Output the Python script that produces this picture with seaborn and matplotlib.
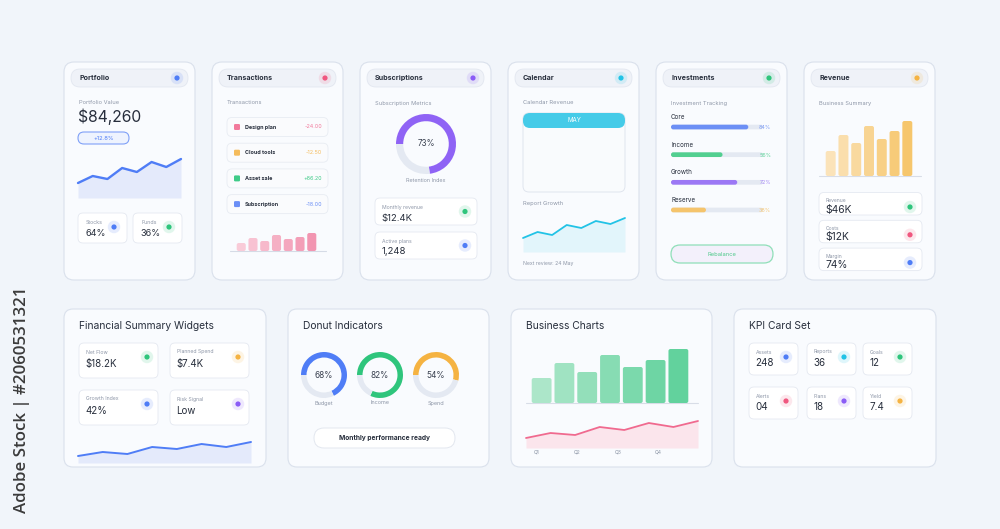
import numpy as np
import matplotlib
matplotlib.use("Agg")
import matplotlib.pyplot as plt
import seaborn as sns
from matplotlib.patches import FancyBboxPatch, Circle

# --- Daten ---
portfolio_trend = [15, 22, 19, 30, 26, 36, 31, 39]
stock_labels = ["Stocks", "Funds"]
stock_values = ["64%", "36%"]
transaction_names = ["Design plan", "Cloud tools", "Asset sale", "Subscription"]
transaction_amounts = ["-24.00", "-12.50", "+86.20", "-18.00"]
transaction_bars = [8, 13, 10, 16, 12, 14, 18]
retention_pct = 73
sub_labels = ["Monthly revenue", "Active plans"]
sub_values = ["$12.4K", "1,248"]
calendar_growth = [14, 20, 17, 27, 24, 31, 28, 34]
invest_names = ["Core", "Income", "Growth", "Reserve"]
invest_pct = [84, 56, 72, 38]
revenue_bars = [25, 41, 33, 50, 37, 45, 55]
revenue_labels = ["Revenue", "Costs", "Margin"]
revenue_values = ["$46K", "$12K", "74%"]
fin_labels = ["Net Flow", "Planned Spend", "Growth Index", "Risk Signal"]
fin_values = ["$18.2K", "$7.4K", "42%", "Low"]
fin_trend = [7, 11, 9, 16, 14, 19, 16, 21]
donut_names = ["Budget", "Income", "Spend"]
donut_pct = [68, 82, 54]
business_bars = [25, 40, 31, 48, 36, 43, 54]
business_trend = [10, 15, 13, 21, 18, 25, 21, 27]
quarters = ["Q1", "Q2", "Q3", "Q4"]
kpi_labels = ["Assets", "Reports", "Goals", "Alerts", "Plans", "Yield"]
kpi_values = ["248", "36", "12", "04", "18", "7.4"]

# --- Farben ---
BG = "#f1f5fa"
CARD = "#f9fbfe"
EDGE = "#dae1ec"
PILL = "#eff2f8"
TRACK = "#e4e9f2"
DARK = "#272e3c"
GRAY = "#8e97a8"
BLUE = "#4f7df6"
PINK = "#f0577f"
PURPLE = "#8b5cf6"
CYAN = "#22c3e6"
GREEN = "#2fc57c"
ORANGE = "#f5b342"

sns.set_style("white")
plt.rcParams["font.family"] = ["Inter", "DejaVu Sans"]

W, H = 1000, 529
fig = plt.figure(figsize=(10, 5.29), dpi=100, facecolor=BG)
bg = fig.add_axes([0, 0, 1, 1])
bg.set_xlim(0, W)
bg.set_ylim(H, 0)
bg.set_axis_off()


def inset(x0, y0, x1, y1):
    ax = fig.add_axes([x0 / W, 1 - y1 / H, (x1 - x0) / W, (y1 - y0) / H])
    ax.set_axis_off()
    return ax


def box(x0, y0, x1, y1, r=9, fc=CARD, ec=EDGE, lw=0.8, z=1):
    bg.add_patch(FancyBboxPatch((x0, y0), x1 - x0, y1 - y0,
                                boxstyle=f"round,pad=0,rounding_size={r}",
                                fc=fc, ec=ec, lw=lw, zorder=z))


def dot(x, y, color, r=2.6):
    bg.add_patch(Circle((x, y), r * 2.4, fc=color, alpha=0.14, ec="none", zorder=5))
    bg.add_patch(Circle((x, y), r, fc=color, ec="none", zorder=6))


def txt(x, y, s, size, color=DARK, weight="normal", ha="left", **kw):
    bg.text(x, y, s, fontsize=size, color=color, fontweight=weight, ha=ha,
            va="center", zorder=8, **kw)


def round_bars(ax, r_px):
    pos = ax.get_position()
    x0, x1 = ax.get_xlim()
    y0, y1 = ax.get_ylim()
    ux = abs(x1 - x0) / (pos.width * W)
    uy = abs(y1 - y0) / (pos.height * H)
    for p in list(ax.patches):
        x, y, w, h = p.get_x(), p.get_y(), p.get_width(), p.get_height()
        fc = p.get_facecolor()
        p.remove()
        rr = min(r_px * ux, abs(w) / 2, abs(h) / uy * ux / 2)
        ax.add_patch(FancyBboxPatch((x, y), w, h,
                                    boxstyle=f"round,pad=0,rounding_size={rr}",
                                    mutation_aspect=uy / ux, fc=fc, ec="none"))


def area_line(x0, x1, base, values, color, fill, lw=1.5, span=50):
    ax = inset(x0, base - span, x1, base)
    idx = np.arange(len(values))
    ax.fill_between(idx, values, 0, color=fill, lw=0)
    sns.lineplot(x=idx, y=values, ax=ax, color=color, lw=lw)
    for ln in ax.lines:
        ln.set_clip_on(False)
        ln.set_solid_joinstyle("round")
    ax.set_xlim(0, len(values) - 1)
    ax.set_ylim(0, span)
    ax.set_axis_off()
    return ax


def bar_chart(x_first, x_last, base, values, colors, frac, span=60, r=2):
    n = len(values)
    pitch = (x_last - x_first) / (n - 1 + frac)
    left = x_first - (1 - frac) / 2 * pitch
    right = x_last + (1 - frac) / 2 * pitch
    ax = inset(left, base - span, right, base)
    cats = [f"b{i}" for i in range(n)]
    sns.barplot(x=cats, y=values, hue=cats, palette=colors, width=frac,
                saturation=1, legend=False, errorbar=None, ax=ax)
    ax.set_xlim(-0.5, n - 0.5)
    ax.set_ylim(0, span)
    ax.set_axis_off()
    round_bars(ax, r)
    return ax


def donut(cx, cy, R, pct, color, width, label_size):
    ax = inset(cx - R, cy - R, cx + R, cy + R)
    ax.pie([pct, 100 - pct], colors=[color, TRACK], startangle=180,
           counterclock=False, radius=1,
           wedgeprops=dict(width=width, edgecolor="none"))
    ax.set_xlim(-1, 1)
    ax.set_ylim(-1, 1)
    ax.text(0, 0, f"{pct}%", ha="center", va="center", fontsize=label_size, color="#3a4150")
    ax.set_axis_off()
    return ax


# --- Obere Reihe: sechs Karten ---
top_titles = ["Portfolio", "Transactions", "Subscriptions", "Calendar", "Investments", "Revenue"]
top_colors = [BLUE, PINK, PURPLE, CYAN, GREEN, ORANGE]
for i, (title, col) in enumerate(zip(top_titles, top_colors)):
    x0 = 64 + i * 148
    x1 = x0 + 131
    box(x0, 62, x1, 280, r=10)
    box(x0 + 7, 69, x1 - 7, 87, r=9, fc=PILL, ec="#e2e7f0", lw=0.6, z=2)
    txt(x0 + 15, 78, title, 5.1, weight="bold")
    dot(x1 - 18, 78, col)

# Portfolio
txt(79, 103, "Portfolio Value", 4.1, GRAY)
txt(78, 117, "$84,260", 11.3, DARK)
box(78, 132, 129, 144, r=6, fc="#eef3fe", ec="#7fa0f7", lw=0.8, z=3)
txt(103.5, 138, "+12.8%", 4.2, BLUE, ha="center")
area_line(78, 181, 198, portfolio_trend, BLUE, "#e4eafb", lw=1.7)
for j, (lab, val, col) in enumerate(zip(stock_labels, stock_values, [BLUE, GREEN])):
    sx = 78 + j * 55
    box(sx, 213, sx + 49, 243, r=5, fc="white", ec="#e5e9f1", lw=0.6, z=3)
    txt(sx + 8, 222, lab, 3.8, GRAY)
    txt(sx + 7.5, 233, val, 6.6, DARK)
    dot(sx + 36, 227, col)

# Transactions
txt(227, 103, "Transactions", 4.1, GRAY)
tr_colors = ["#f27a9c", "#f5bc5c", "#3fcb88", "#6b8ff6"]
for j, (name, amt, col) in enumerate(zip(transaction_names, transaction_amounts, tr_colors)):
    yc = 127 + j * 25.7
    box(227, yc - 9.5, 328, yc + 9.5, r=5, fc="#fafbfd", ec="#e8ecf3", lw=0.6, z=3)
    bg.add_patch(FancyBboxPatch((234, yc - 3), 6, 6, boxstyle="round,pad=0,rounding_size=1.2",
                                fc=col, ec="none", zorder=6))
    txt(245, yc, name, 3.9, DARK, weight="bold")
    txt(322, yc, amt, 3.9, col, ha="right")
bg.plot([230, 326], [251, 251], color="#d5dbe6", lw=0.8, zorder=4)
bar_chart(236.7, 316.3, 251, transaction_bars,
          sns.blend_palette(["#f9cbd8", "#f295b1"], 7), 0.77, span=30)

# Subscriptions
txt(375, 103, "Subscription Metrics", 4.1, GRAY)
donut(426, 144, 30, retention_pct, "#8f63f5", 0.24, 5.8)
txt(426, 181, "Retention Index", 3.9, GRAY, ha="center")
for j, (lab, val, col) in enumerate(zip(sub_labels, sub_values, [GREEN, BLUE])):
    y0 = 198 + j * 34
    box(375, y0, 477, y0 + 27, r=5, fc="white", ec="#e5e9f1", lw=0.6, z=3)
    txt(382, y0 + 9, lab, 3.7, GRAY)
    txt(381.5, y0 + 20, val, 6.9, DARK)
    dot(465, y0 + 13.5, col)

# Calendar
txt(523, 103, "Calendar Revenue", 4.1, GRAY)
box(523, 113, 625, 192, r=6, fc="#f9fbfd", ec="#e0e5ee", lw=0.7, z=3)
box(523, 113, 625, 128, r=7, fc="#45cbe8", ec="none", lw=0, z=4)
txt(574, 120.5, "MAY", 4.4, "white", ha="center")
txt(523, 204, "Report Growth", 4.2, GRAY)
area_line(523, 625, 252, calendar_growth, CYAN, "#e2f5fb", lw=1.3)
txt(523, 264, "Next review: 24 May", 3.7, GRAY)

# Investments
txt(671, 103, "Investment Tracking", 4.1, GRAY)
inv_colors = ["#6c8ff5", "#52cf90", "#9c78f5", "#f5c46c"]
inv_text = ["#7f9df5", "#5fd39a", "#a68af5", "#f5c878"]
ax_inv = inset(671, 113.2, 763, 223.8)
sns.barplot(x=[100] * 4, y=invest_names, color=TRACK, width=0.17, orient="h",
            saturation=1, errorbar=None, ax=ax_inv)
sns.barplot(x=invest_pct, y=invest_names, hue=invest_names, palette=inv_colors,
            width=0.17, orient="h", saturation=1, legend=False, errorbar=None, ax=ax_inv)
ax_inv.set_xlim(0, 100)
ax_inv.set_ylim(3.5, -0.5)
ax_inv.set_axis_off()
round_bars(ax_inv, 2.5)
for j, (name, pct, col) in enumerate(zip(invest_names, invest_pct, inv_text)):
    yb = 127 + j * 27.7
    txt(671, yb - 10, name, 4.5, DARK)
    ax_inv.text(771, yb + 0.5, f"{pct}%", fontsize=3.9, color=col, ha="right",
                va="center", transform=bg.transData, clip_on=False, zorder=9)
box(671, 245, 773, 263, r=9, fc="#f3f0fb", ec="#8fdfb8", lw=0.9, z=3)
txt(722, 254, "Rebalance", 4.2, "#4fc98b", ha="center")

# Revenue
txt(819, 103, "Business Summary", 4.1, GRAY)
bg.plot([819, 921], [176, 176], color="#d8dde7", lw=0.8, zorder=4)
bar_chart(825.7, 912.3, 176, revenue_bars,
          sns.blend_palette(["#fbe3b9", "#f6c66c"], 7), 0.78, span=60)
for j, (lab, val, col) in enumerate(zip(revenue_labels, revenue_values, [GREEN, PINK, BLUE])):
    y0 = 192.5 + j * 27.8
    box(819, y0, 922, y0 + 22.5, r=5, fc="white", ec="#e5e9f1", lw=0.6, z=3)
    txt(826, y0 + 8.5, lab, 3.6, GRAY)
    txt(825.5, y0 + 17, val, 7.4, DARK)
    dot(910, y0 + 14.5, col)

# --- Untere Reihe: vier Karten ---
bottom_titles = ["Financial Summary Widgets", "Donut Indicators", "Business Charts", "KPI Card Set"]
bottom_x = [(64, 266), (288, 489), (511, 712), (734, 936)]
for title, (x0, x1) in zip(bottom_titles, bottom_x):
    box(x0, 309, x1, 467, r=9)
    txt(x0 + 15, 326, title, 7.4, DARK)

# Financial Summary
fin_colors = [GREEN, ORANGE, BLUE, PURPLE]
for j, (lab, val, col) in enumerate(zip(fin_labels, fin_values, fin_colors)):
    x0 = 79 + (j % 2) * 91
    y0 = 343 + (j // 2) * 47
    box(x0, y0, x0 + 79, y0 + 35, r=5, fc="white", ec="#e5e9f1", lw=0.6, z=3)
    txt(x0 + 7, y0 + 9, lab, 3.7, GRAY)
    txt(x0 + 6.5, y0 + 20.5, val, 7.0, DARK)
    dot(x0 + 68, y0 + 14, col)
area_line(78, 251, 463, fin_trend, BLUE, "#e4eafb", lw=1.4, span=30)

# Donut Indicators
for j, (name, pct, col) in enumerate(zip(donut_names, donut_pct, [BLUE, GREEN, ORANGE])):
    cx = 324 + j * 56
    donut(cx, 375, 23, pct, col, 0.24, 6.0)
    txt(cx, 403, name, 4.0, GRAY, ha="center")
box(314, 428, 455, 448, r=10, fc="white", ec="#e3e7ef", lw=0.7, z=3)
txt(384.5, 438, "Monthly performance ready", 4.8, DARK, weight="bold", ha="center")

# Business Charts
bg.plot([526, 698], [403, 403], color="#d8dde7", lw=0.8, zorder=4)
bar_chart(531.7, 688.3, 403, business_bars,
          sns.blend_palette(["#ace6c9", "#62d29d"], 7), 0.87, span=60)
area_line(526, 698, 448, business_trend, "#f06a8f", "#fbe5ec", lw=1.3, span=35)
for j, q in enumerate(quarters):
    txt(537 + j * 40.5, 452, q, 3.6, GRAY, ha="center")

# KPI Card Set
kpi_colors = [BLUE, CYAN, GREEN, PINK, PURPLE, ORANGE]
kpi_cols = [749, 807, 863]
for j, (lab, val, col) in enumerate(zip(kpi_labels, kpi_values, kpi_colors)):
    x0 = kpi_cols[j % 3]
    y0 = 343 + (j // 3) * 44
    box(x0, y0, x0 + 49, y0 + 32, r=5, fc="white", ec="#e5e9f1", lw=0.6, z=3)
    txt(x0 + 7, y0 + 9, lab, 3.7, GRAY)
    txt(x0 + 6.5, y0 + 20.5, val, 7.1, DARK)
    dot(x0 + 37, y0 + 14, col)

# Senkrechter Schriftzug links
bg.text(22, 400, "Adobe Stock | #2060531321", rotation=90, fontsize=12.2,
        color="#3b3b3b", ha="center", va="center", family=["Open Sans", "DejaVu Sans"],
        fontweight="semibold")

fig.savefig("out.png", dpi=100, facecolor=BG)
